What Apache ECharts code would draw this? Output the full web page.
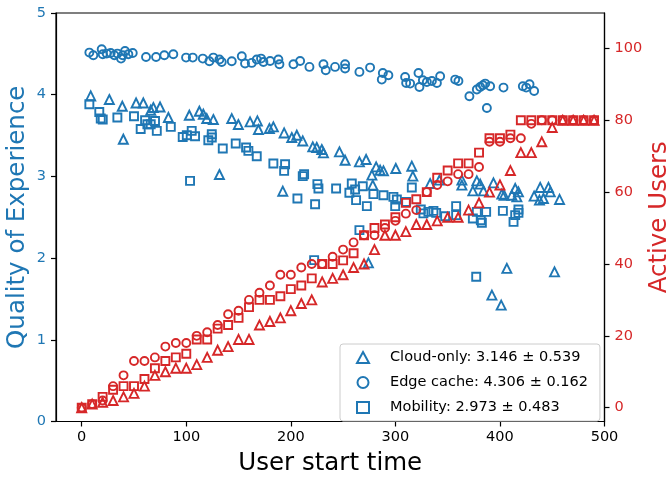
<!DOCTYPE html>
<html><head><meta charset="utf-8">
<script src="https://cdn.jsdelivr.net/npm/echarts@6/dist/echarts.min.js"></script>
<style>html,body{margin:0;padding:0;background:#fff}#c{width:669px;height:477px}</style>
</head><body><div id="c"></div>
<script>
// ---- QoE (left axis) ----
const cloudX = [8.6,26.4,38.8,39.8,52,58.9,66,68.5,74.9,82.9,102.9,112.5,116.3,119.6,125.9,131.7,143.5,149.8,161,168,169,179.5,183.3,192.3,193.6,200.9,205.7,211.4,221,224.8,229.6,231.2,246.5,251.9,265.6,272,274.2,277.5,278.4,281.6,285.4,288.6,300.4,315.7,316.7,333.2,342.1,363.6,363.6,374.1,377.9,381.1,384.2,392.3,393.8,401.2,401.8,404,406.6,411.4,414.6,416.2,417.7,432.7,437.8,438.5,441.6,446.4,448.1,452.2,457];
const cloudQoE = [3.985,3.941,3.859,3.455,3.899,3.899,3.810,3.843,3.850,3.721,3.749,3.798,3.761,3.708,3.696,3.023,3.708,3.635,3.667,3.679,3.574,3.586,3.606,2.819,3.532,3.476,3.504,3.434,3.361,3.354,3.329,3.288,3.300,3.198,3.178,3.207,1.942,3.015,2.893,3.117,3.076,3.068,3.097,3.125,3.003,2.913,2.954,2.954,2.893,2.823,2.945,2.905,2.823,1.547,2.921,1.425,2.783,2.770,1.874,2.770,2.852,2.750,2.811,2.758,2.709,2.865,2.730,2.865,2.811,1.832,2.718];

const edgeX = [7.3,11.1,19.1,20.1,23.9,27.7,31.2,34.1,37.6,39.2,41.4,44.6,48.8,61.5,71.1,79,87.6,99.8,106.2,115.8,122.1,125.9,131.7,133.9,143.5,153.1,156.2,162.6,167.4,171.5,173.8,180.2,188.1,189.1,202.5,208.9,217.8,231.2,233.4,242.3,251.9,251.9,265.6,275.8,287,288,293.3,309.3,310.3,314.1,322.1,323,326.3,330.1,334.9,339.7,342.8,357.2,360.3,370.8,377.9,381.1,383.7,385.9,387.5,390.6,403.4,421.9,425.1,428.3,432.7];
const edgeQoE = [4.515,4.483,4.556,4.495,4.503,4.511,4.483,4.503,4.442,4.483,4.535,4.495,4.511,4.462,4.462,4.483,4.495,4.454,4.454,4.442,4.409,4.454,4.430,4.401,4.409,4.470,4.381,4.389,4.430,4.442,4.401,4.413,4.430,4.373,4.373,4.413,4.340,4.373,4.299,4.340,4.373,4.320,4.279,4.332,4.185,4.266,4.238,4.217,4.144,4.136,4.266,4.095,4.177,4.156,4.168,4.144,4.226,4.185,4.168,3.981,4.063,4.095,4.116,4.136,3.838,4.103,4.087,4.103,4.087,4.128,4.046];

const mobilityX = [7.3,16.8,18.2,20.1,34.1,50,56.4,60.6,62.8,66,70.1,71.8,85.2,96.6,100.5,103.6,105.2,108.4,121.1,124.4,124.4,134.9,147.3,157.2,159.4,167.4,183.3,193.6,194.5,206.3,211.4,212.7,222.3,223.2,225.4,226.4,243.3,256,258.3,261.5,262.4,265.6,268.8,272.7,279,288.6,298.1,299.8,301.4,310.3,315.7,324.3,326.8,331.6,336.4,339,347.6,358.1,358.1,374.1,377.3,377.9,381.7,382.7,386.8,402.8,413,414.6,417.7,417.7];
const mobilityQoE = [3.883,3.789,3.708,3.696,3.721,3.737,3.581,3.688,3.639,3.639,3.679,3.557,3.606,3.483,3.504,2.945,3.557,3.492,3.443,3.516,3.476,3.341,3.403,3.354,3.313,3.247,3.158,3.068,3.149,2.730,3.003,3.027,1.975,2.660,2.905,2.852,2.852,2.799,2.913,2.840,2.709,2.342,2.880,2.636,2.783,2.770,2.750,2.636,2.718,2.688,2.865,2.595,2.547,2.566,2.578,2.554,2.513,2.636,2.526,2.485,1.771,2.566,2.464,2.432,2.566,2.578,2.444,2.526,2.595,2.554];

// ---- Active users (right axis) ----
const userTimes = [0,10,20,30,40,50,60,70,80,90,100,110,120,130,140,150,160,170,180,190,200,210,220,230,240,250,260,270,280,290,300,310,320,330,340,350,360,370,380,390,400,410,420,430,440,450,460,470,480,490];
const cloudUsers = [0,1,1.5,2,3,4,6,9,10,11,11,12,14,16,17,19,19,23,24,25,27,29,30,35,36,37,39,40,44,48,48,49,51,51,52,53,53,55,57,60,62,66,71,71,74,78,80,80,80,80];
const edgeUsers = [0,1,2,6,9,13,13,14,17,18,18,20,21,23,26,27,30,32,34,37,37,39,40,40,42,44,46,48,48,50,52,54,55,60,62,63,65,65,67,74,74,75,75,79,80,80,80,80,80,80];
const mobilityUsers = [0,1,3,5,6,6,8,11,13,14,15,19,19,22,23,25,28,30,30,31,33,34,36,40,40,41,43,48,50,51,53,57,58,60,64,66,68,68,71,75,75,76,80,80,80,80,80,80,80,80];

const xTicks = [0,100,200,300,400,500];
const userTicks = [0,20,40,60,80,100];
const legendLabels = ['Cloud-only: 3.146 \u00b1 0.539','Edge cache: 4.306 \u00b1 0.162','Mobility: 2.973 \u00b1 0.483'];

const BLUE = '#1f77b4', RED = '#d62728';
const FONT = 'DejaVu Sans';
const zip = (a,b) => a.map((v,i)=>[v,b[i]]);

function sc(name, sym, size, color, x, y, axis){
  return {
    name, type:'scatter', yAxisIndex: axis, symbol: sym, symbolSize: size,
    symbolKeepAspect: true,
    data: zip(x,y),
    itemStyle: {color:'rgba(0,0,0,0)', borderColor: color, borderWidth: 1.9, opacity:1},
    emphasis: {disabled:true}
  };
}

const chart = echarts.init(document.getElementById('c'), null, {renderer:'canvas'});
chart.setOption({
  animation:false,
  backgroundColor:'#fff',
  textStyle:{fontFamily:FONT},
  grid:{left:56, right:64.5, top:13, bottom:55.5, outerBoundsMode:'none', containLabel:false,
        show:true, borderColor:'#000', borderWidth:1.2, backgroundColor:'rgba(0,0,0,0)'},
  legend:{
    data: legendLabels, orient:'vertical', left:340, top:344,
    padding:[6,12,6,16], itemGap:10, itemWidth:12, itemHeight:11,
    symbolKeepAspect:true,
    backgroundColor:'rgba(255,255,255,0.8)', borderColor:'#cccccc', borderWidth:1, borderRadius:3,
    textStyle:{fontFamily:FONT, fontSize:14.5, color:'#000', lineHeight:14, padding:[0,0,0,16]},
    itemStyle:{borderWidth:2, opacity:1},
    selectedMode:false
  },
  xAxis:{
    type:'value', min:-24.6, max:500,
    name:'User start time', nameLocation:'middle', nameGap:30, nameMoveOverlap:false,
    nameTextStyle:{fontFamily:FONT, fontSize:24.5, color:'#000'},
    axisLine:{show:true, onZero:false, lineStyle:{color:'#000', width:1.2}},
    axisTick:{show:true, length:5, customValues:xTicks, lineStyle:{color:'#000', width:1.2}},
    axisLabel:{customValues:xTicks, color:'#000', fontSize:14.5, fontFamily:FONT, margin:8},
    splitLine:{show:false}
  },
  yAxis:[{
    type:'value', min:0, max:5, interval:1, position:'left',
    name:'Quality of Experience', nameLocation:'middle', nameGap:26, nameRotate:90, nameMoveOverlap:false,
    nameTextStyle:{fontFamily:FONT, fontSize:24.5, color:BLUE},
    axisLine:{show:true, onZero:false, lineStyle:{color:'#000', width:1.2}},
    axisTick:{show:true, length:5, lineStyle:{color:'#000', width:1.2}},
    axisLabel:{color:BLUE, fontSize:14.5, fontFamily:FONT, margin:10},
    splitLine:{show:false}
  },{
    type:'value', min:-3.84, max:109.85, position:'right',
    name:'Active Users', nameLocation:'middle', nameGap:43, nameRotate:90, nameMoveOverlap:false,
    nameTextStyle:{fontFamily:FONT, fontSize:24.5, color:RED},
    axisLine:{show:true, onZero:false, lineStyle:{color:'#000', width:1.2}},
    axisTick:{show:true, length:5, customValues:userTicks, lineStyle:{color:'#000', width:1.2}},
    axisLabel:{customValues:userTicks, color:RED, fontSize:14.5, fontFamily:FONT, margin:10},
    splitLine:{show:false}
  }],
  series:[
    sc(legendLabels[0],'triangle',9,BLUE,cloudX,cloudQoE,0),
    sc(legendLabels[1],'circle',8,BLUE,edgeX,edgeQoE,0),
    sc(legendLabels[2],'rect',8,BLUE,mobilityX,mobilityQoE,0),
    sc('Cloud-only users','triangle',9,RED,userTimes,cloudUsers,1),
    sc('Edge cache users','circle',8,RED,userTimes,edgeUsers,1),
    sc('Mobility users','rect',8,RED,userTimes,mobilityUsers,1)
  ]
});
</script></body></html>
